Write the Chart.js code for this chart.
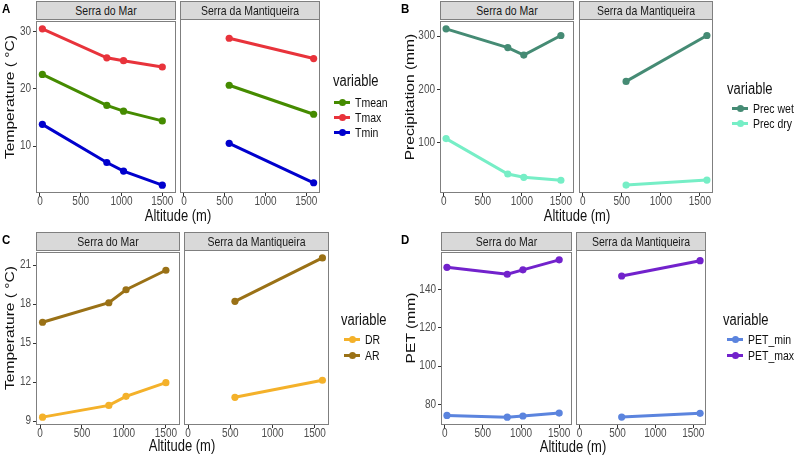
<!DOCTYPE html>
<html>
<head>
<meta charset="utf-8">
<script src="https://cdn.jsdelivr.net/npm/chart.js@4"></script>
<style>
  html, body { margin: 0; padding: 0; background: #fff; }
  body { width: 794px; height: 457px; position: relative; overflow: hidden; font-family: "Liberation Sans", Arial, sans-serif; font-weight: normal; }
  .strip { position: absolute; box-sizing: border-box; background: #d9d9d9; border: 1px solid #7f7f7f; color: #1a1a1a; font-size: 10.5px; text-align: center; }
  .strip span { display: inline-block; transform: scaleY(1.18); }
  .ytitle { position: absolute; transform: translate(-50%, -50%) scale(1, 1.2) rotate(-90deg); font-size: 13px; color: #111; white-space: nowrap; }
  .xtitle { position: absolute; transform: translate(-50%, -50%) scaleY(1.2); font-size: 13px; color: #111; white-space: nowrap; }
  .tag { position: absolute; font-size: 11.5px; font-weight: bold; color: #000; transform: scaleY(1.15); transform-origin: 0 0; }
  .legtitle { position: absolute; font-size: 13px; color: #111; transform: translateY(-50%) scaleY(1.2); white-space: nowrap; }
  .legitem { position: absolute; height: 14px; transform: translateY(-50%); white-space: nowrap; }
  .legitem .line { position: absolute; left: 0; top: 5.5px; height: 3px; }
  .legitem .dot { position: absolute; top: 3.5px; width: 7px; height: 7px; border-radius: 50%; }
  .legitem .lab { position: absolute; top: 0; font-size: 10.5px; line-height: 14px; color: #111; transform: scaleY(1.18); }
</style>
</head>
<body>
<script>
// ---------------- DATA ----------------
const xTickValues = [0, 500, 1000, 1500];
const facetNames = ["Serra do Mar", "Serra da Mantiqueira"];
const altitudeMar = [30, 820, 1025, 1500];
const altitudeMant = [555, 1590];

// Panel A: temperature (°C)
const tempLabels = ["Tmean", "Tmax", "Tmin"];
const tmeanMar = [22.5, 17.1, 16.1, 14.4];
const tmaxMar  = [30.45, 25.4, 24.9, 23.8];
const tminMar  = [13.8, 7.15, 5.65, 3.2];
const tmeanMant = [20.4, 15.4];
const tmaxMant  = [28.5, 25.0];
const tminMant  = [10.4, 3.6];
const tempTicks = [10, 20, 30];

// Panel B: precipitation (mm)
const precLabels = ["Prec wet", "Prec dry"];
const precWetMar = [313.5, 278.4, 264.4, 301];
const precDryMar = [108, 41.7, 35.6, 30];
const precWetMant = [212.7, 297.6];
const precDryMant = [20.8, 30];
const precTicks = [100, 200, 300];

// Panel C: temperature ranges (°C)
const rangeLabels = ["DR", "AR"];
const drMar = [9.3, 10.2, 10.9, 11.95];
const arMar = [16.6, 18.1, 19.1, 20.6];
const drMant = [10.8, 12.1];
const arMant = [18.1, 21.4];
const rangeTicks = [9, 12, 15, 18, 21];

// Panel D: PET (mm)
const petLabels = ["PET_min", "PET_max"];
const petMinMar = [74.3, 73.4, 74.0, 75.5];
const petMaxMar = [151.6, 148.0, 150.3, 155.5];
const petMinMant = [73.4, 75.3];
const petMaxMant = [146.2, 154.1];
const petTicks = [80, 100, 120, 140];

// ---------------- STYLE ----------------
const FONT = '"Liberation Sans", Arial, sans-serif';
const TICK_FONT_SIZE = 10;
const colors = {
  Tmean: "#458B00", Tmax: "#E8333B", Tmin: "#0000CD",
  "Prec wet": "#458B74", "Prec dry": "#76EEC6",
  DR: "#F4B12A", AR: "#9A7116",
  PET_min: "#5B84DE", PET_max: "#7222CC"
};

function expandRange(arrs) {
  const all = [].concat(...arrs);
  const mn = Math.min(...all), mx = Math.max(...all);
  const pad = (mx - mn) * 0.05;
  return [mn - pad, mx + pad];
}
const xRange = expandRange([altitudeMar, altitudeMant]);

// draws the panel border and tick labels (slightly stretched vertically like the reference)
const panelPlugin = {
  id: 'panelDecor',
  afterDraw(chart) {
    const a = chart.chartArea, ctx = chart.ctx;
    ctx.save();
    ctx.strokeStyle = '#7f7f7f';
    ctx.lineWidth = 1;
    ctx.strokeRect(a.left + 0.5, a.top + 0.5, a.right - a.left - 1, a.bottom - a.top - 1);
    ctx.fillStyle = '#4d4d4d';
    ctx.font = TICK_FONT_SIZE + 'px ' + FONT;
    const xs = chart.scales.x;
    ctx.textAlign = 'center';
    ctx.textBaseline = 'middle';
    xs.ticks.forEach(t => {
      const px = xs.getPixelForValue(t.value);
      ctx.save();
      ctx.translate(px, a.bottom + 9);
      ctx.scale(1, 1.2);
      ctx.fillText(String(t.value), 0, 0);
      ctx.restore();
    });
    const ys = chart.scales.y;
    if (ys.options.display) {
      ctx.textAlign = 'right';
      ys.ticks.forEach(t => {
        const py = ys.getPixelForValue(t.value);
        ctx.save();
        ctx.translate(a.left - 5, py);
        ctx.scale(1, 1.2);
        ctx.fillText(String(t.value), 0, 0);
        ctx.restore();
      });
    }
    ctx.restore();
  }
};

function el(cls, style, text) {
  const d = document.createElement('div');
  d.className = cls;
  Object.assign(d.style, style);
  if (text !== undefined) d.textContent = text;
  document.body.appendChild(d);
  return d;
}

function makeFacet(p) {
  const padL = 10, padR = 14, padT = 6, xH = 20;
  const yW = p.yTicks ? 26 : 0;
  const cw = padL + yW + p.w + padR;
  const ch = padT + p.h + xH;
  const canvas = document.createElement('canvas');
  canvas.width = cw; canvas.height = ch;
  canvas.style.position = 'absolute';
  canvas.style.left = (p.left - padL - yW) + 'px';
  canvas.style.top = (p.top - padT) + 'px';
  canvas.style.width = cw + 'px';
  canvas.style.height = ch + 'px';
  document.body.appendChild(canvas);

  const gridCfg = { drawOnChartArea: false, drawTicks: true, tickLength: 3, tickColor: '#333333', lineWidth: 1 };
  const hiddenTicks = { color: 'rgba(0,0,0,0)', font: { family: FONT, size: TICK_FONT_SIZE }, autoSkip: false, maxRotation: 0, callback: v => String(v) };
  new Chart(canvas, {
    type: 'scatter',
    data: {
      datasets: p.series.map(s => ({
        label: s.label,
        data: s.x.map((x, i) => ({ x: x, y: s.y[i] })),
        showLine: true,
        borderColor: colors[s.label],
        backgroundColor: colors[s.label],
        pointBackgroundColor: colors[s.label],
        borderWidth: 3,
        pointRadius: 3.6,
        pointBorderWidth: 0,
        pointHoverRadius: 3.6
      }))
    },
    options: {
      responsive: false,
      animation: false,
      events: [],
      devicePixelRatio: 1,
      layout: { padding: { left: padL, right: padR, top: padT, bottom: 0 } },
      plugins: { legend: { display: false }, tooltip: { enabled: false } },
      scales: {
        x: {
          type: 'linear', min: xRange[0], max: xRange[1],
          afterBuildTicks: s => { s.ticks = xTickValues.map(v => ({ value: v })); },
          afterFit: s => { s.height = xH; },
          grid: gridCfg,
          border: { display: false },
          ticks: Object.assign({ padding: 1 }, hiddenTicks)
        },
        y: {
          type: 'linear', min: p.yRange[0], max: p.yRange[1],
          display: !!p.yTicks,
          afterBuildTicks: s => { s.ticks = (p.yTicks || []).map(v => ({ value: v })); },
          afterFit: s => { s.width = yW; },
          grid: gridCfg,
          border: { display: false },
          ticks: Object.assign({ padding: 2 }, hiddenTicks)
        }
      }
    },
    plugins: [panelPlugin]
  });
}

function makePanel(cfg) {
  const yRange = expandRange(cfg.allY);
  cfg.facets.forEach((f, i) => {
    const st = el('strip', { left: f.left + 'px', top: cfg.stripTop + 'px', width: f.w + 'px', height: (cfg.top - cfg.stripTop + 1) + 'px', lineHeight: (cfg.top - cfg.stripTop - 1) + 'px' });
    const sp = document.createElement('span'); sp.textContent = facetNames[i]; st.appendChild(sp);
    makeFacet({ left: f.left, top: cfg.top, w: f.w, h: cfg.h, yTicks: i === 0 ? cfg.yTicks : null, yRange: yRange, series: f.series });
  });
  el('tag', { left: cfg.tag[0] + 'px', top: cfg.tag[1] + 'px' }, cfg.tagText);
  el('ytitle', { left: cfg.ytitlePos[0] + 'px', top: cfg.ytitlePos[1] + 'px' }, cfg.ytitle);
  el('xtitle', { left: cfg.xtitlePos[0] + 'px', top: cfg.xtitlePos[1] + 'px' }, 'Altitude (m)');
  el('legtitle', { left: cfg.leg.x + 'px', top: cfg.leg.titleY + 'px' }, 'variable');
  cfg.legLabels.forEach((lab, i) => {
    const it = el('legitem', { left: cfg.leg.keyX + 'px', top: cfg.leg.itemY[i] + 'px', width: '80px' });
    const ln = document.createElement('div'); ln.className = 'line';
    ln.style.width = cfg.leg.keyW + 'px'; ln.style.background = colors[lab]; it.appendChild(ln);
    const dt = document.createElement('div'); dt.className = 'dot';
    dt.style.left = (cfg.leg.keyW / 2 - 3.5) + 'px'; dt.style.background = colors[lab]; it.appendChild(dt);
    const tx = document.createElement('div'); tx.className = 'lab';
    tx.style.left = (cfg.leg.keyW + 5) + 'px'; tx.textContent = lab; it.appendChild(tx);
  });
}

// Panel A
makePanel({
  tagText: 'A', tag: [2, 1], stripTop: 1, top: 19, h: 174,
  allY: [tmeanMar, tmaxMar, tminMar, tmeanMant, tmaxMant, tminMant],
  yTicks: tempTicks,
  facets: [
    { left: 36, w: 140, series: [
      { label: 'Tmean', x: altitudeMar, y: tmeanMar },
      { label: 'Tmax', x: altitudeMar, y: tmaxMar },
      { label: 'Tmin', x: altitudeMar, y: tminMar } ] },
    { left: 180, w: 140, series: [
      { label: 'Tmean', x: altitudeMant, y: tmeanMant },
      { label: 'Tmax', x: altitudeMant, y: tmaxMant },
      { label: 'Tmin', x: altitudeMant, y: tminMant } ] }
  ],
  ytitle: 'Temperature ( °C)', ytitlePos: [9, 97], xtitlePos: [178, 216],
  legLabels: tempLabels,
  leg: { x: 333, titleY: 81, keyX: 334, keyW: 16, itemY: [102, 117, 132] }
});

// Panel B
makePanel({
  tagText: 'B', tag: [401, 1], stripTop: 1, top: 19, h: 174,
  allY: [precWetMar, precDryMar, precWetMant, precDryMant],
  yTicks: precTicks,
  facets: [
    { left: 440, w: 134, series: [
      { label: 'Prec wet', x: altitudeMar, y: precWetMar },
      { label: 'Prec dry', x: altitudeMar, y: precDryMar } ] },
    { left: 579, w: 134, series: [
      { label: 'Prec wet', x: altitudeMant, y: precWetMant },
      { label: 'Prec dry', x: altitudeMant, y: precDryMant } ] }
  ],
  ytitle: 'Precipitation (mm)', ytitlePos: [409, 97], xtitlePos: [577, 216],
  legLabels: precLabels,
  leg: { x: 727, titleY: 89, keyX: 732, keyW: 16, itemY: [108, 123] }
});

// Panel C
makePanel({
  tagText: 'C', tag: [2, 232], stripTop: 232, top: 250, h: 175,
  allY: [drMar, arMar, drMant, arMant],
  yTicks: rangeTicks,
  facets: [
    { left: 36, w: 144, series: [
      { label: 'DR', x: altitudeMar, y: drMar },
      { label: 'AR', x: altitudeMar, y: arMar } ] },
    { left: 184, w: 145, series: [
      { label: 'DR', x: altitudeMant, y: drMant },
      { label: 'AR', x: altitudeMant, y: arMant } ] }
  ],
  ytitle: 'Temperature ( °C)', ytitlePos: [9, 328], xtitlePos: [182, 446],
  legLabels: rangeLabels,
  leg: { x: 341, titleY: 320, keyX: 344, keyW: 16, itemY: [339, 355] }
});

// Panel D
makePanel({
  tagText: 'D', tag: [401, 232], stripTop: 232, top: 250, h: 175,
  allY: [petMinMar, petMaxMar, petMinMant, petMaxMant],
  yTicks: petTicks,
  facets: [
    { left: 441, w: 131, series: [
      { label: 'PET_min', x: altitudeMar, y: petMinMar },
      { label: 'PET_max', x: altitudeMar, y: petMaxMar } ] },
    { left: 576, w: 130, series: [
      { label: 'PET_min', x: altitudeMant, y: petMinMant },
      { label: 'PET_max', x: altitudeMant, y: petMaxMant } ] }
  ],
  ytitle: 'PET (mm)', ytitlePos: [410, 328], xtitlePos: [573, 447],
  legLabels: petLabels,
  leg: { x: 723, titleY: 320, keyX: 727, keyW: 16, itemY: [339, 355] }
});
</script>
</body>
</html>
